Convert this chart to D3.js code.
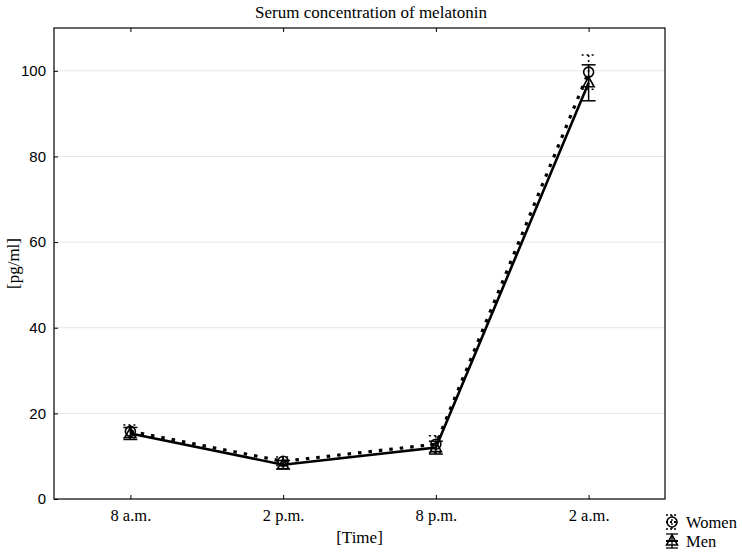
<!DOCTYPE html>
<html><head><meta charset="utf-8">
<script src="https://cdn.jsdelivr.net/npm/d3@7"></script>
<style>body{margin:0;background:#fff}</style>
</head><body>
<script>
const categories = ["8 a.m.", "2 p.m.", "8 p.m.", "2 a.m."];
const womenMean = [15.8, 8.8, 12.8, 99.7];
const womenErr = [1.5, 1.0, 2.0, 4.0];
const menMean = [15.3, 8.0, 12.0, 97.2];
const menErr = [1.4, 1.0, 1.5, 4.2];
const yTicks = [0, 20, 40, 60, 80, 100];
const seriesNames = ["Women", "Men"];

const W = 742, H = 556;
const m = {l: 54, r: 77, t: 28, b: 57};
const serif = "Liberation Serif, Times New Roman, serif";
const svg = d3.select("body").append("svg").attr("width", W).attr("height", H);
const x = d3.scalePoint().domain(categories).range([m.l, W - m.r]).padding(0.5);
const y = d3.scaleLinear().domain([0, 110]).range([H - m.b, m.t]);

// grid
svg.append("g").selectAll("line").data(yTicks.filter(d => d > 0)).join("line")
  .attr("x1", m.l).attr("x2", W - m.r).attr("y1", d => y(d)).attr("y2", d => y(d))
  .attr("stroke", "#e6e6e6").attr("stroke-width", 1);

// y axis
const ya = svg.append("g").attr("transform", `translate(${m.l},0)`)
  .call(d3.axisLeft(y).tickValues(yTicks).tickSizeInner(-4).tickSizeOuter(0).tickPadding(8));
ya.select(".domain").remove();
ya.selectAll("line").attr("stroke", "#000");
ya.selectAll("text").attr("font-family", "Liberation Sans, Arial, sans-serif").attr("font-size", 15).attr("fill", "#000");

// x axis bottom
const xa = svg.append("g").attr("transform", `translate(0,${H - m.b})`)
  .call(d3.axisBottom(x).tickSizeInner(-4).tickSizeOuter(0).tickPadding(10));
xa.select(".domain").remove();
xa.selectAll("line").attr("stroke", "#000");
xa.selectAll("text").attr("font-family", serif).attr("font-size", 16.5).attr("fill", "#000");
// top ticks
const xt = svg.append("g").attr("transform", `translate(0,${m.t})`)
  .call(d3.axisTop(x).tickSizeInner(-4).tickSizeOuter(0).tickFormat(""));
xt.select(".domain").remove();
xt.selectAll("line").attr("stroke", "#000");

// frame
svg.append("rect").attr("x", m.l).attr("y", m.t).attr("width", W - m.r - m.l).attr("height", H - m.b - m.t)
  .attr("fill", "none").attr("stroke", "#000").attr("stroke-width", 1.2);

function drawSeries(mean, err, dash, marker) {
  const g = svg.append("g");
  const line = d3.line().x((d, i) => x(categories[i])).y(d => y(d));
  g.append("path").datum(mean).attr("d", line).attr("fill", "none").attr("stroke", "#000")
    .attr("stroke-width", dash ? 3.2 : 2.6).attr("stroke-dasharray", dash ? "3.5,7" : null);
  mean.forEach((v, i) => {
    const cx = x(categories[i]);
    const t = y(v + err[i]), b = y(v - err[i]);
    const da = dash ? "2,3" : null;
    g.append("line").attr("x1", cx).attr("x2", cx).attr("y1", t).attr("y2", b).attr("stroke", "#000").attr("stroke-width", 1.5).attr("stroke-dasharray", da);
    [t, b].forEach(yy => g.append("line").attr("x1", cx - 7).attr("x2", cx + 7).attr("y1", yy).attr("y2", yy).attr("stroke", "#000").attr("stroke-width", 1.5).attr("stroke-dasharray", da));
    drawMarker(g, cx, y(v), marker);
  });
}
function drawMarker(g, cx, cy, marker) {
  if (marker === "circle") {
    g.append("circle").attr("cx", cx).attr("cy", cy).attr("r", 5).attr("fill", "none").attr("stroke", "#000").attr("stroke-width", 1.6);
  } else {
    g.append("path").attr("d", `M${cx},${cy - 6}L${cx + 5.5},${cy + 4}L${cx - 5.5},${cy + 4}Z`).attr("fill", "none").attr("stroke", "#000").attr("stroke-width", 1.6);
  }
}
drawSeries(womenMean, womenErr, true, "circle");
drawSeries(menMean, menErr, false, "triangle");

// title & labels
svg.append("text").attr("x", 371).attr("y", 18).attr("text-anchor", "middle")
  .attr("font-family", serif).attr("font-size", 17).text("Serum concentration of melatonin");
svg.append("text").attr("x", (m.l + W - m.r) / 2).attr("y", 543).attr("text-anchor", "middle")
  .attr("font-family", serif).attr("font-size", 17).text("[Time]");
svg.append("text").attr("transform", `translate(19,${(m.t + H - m.b) / 2}) rotate(-90)`).attr("text-anchor", "middle")
  .attr("font-family", serif).attr("font-size", 17).text("[pg/ml]");

// legend
const lg = svg.append("g");
seriesNames.forEach((n, i) => {
  const ly = 522 + i * 19;
  const lx = 672;
  const da = i === 0 ? "2,2" : null;
  lg.append("line").attr("x1", lx).attr("x2", lx).attr("y1", ly - 7).attr("y2", ly + 7).attr("stroke", "#000").attr("stroke-width", 1.3).attr("stroke-dasharray", da);
  [ly - 7, ly + 7].forEach(yy => lg.append("line").attr("x1", lx - 6).attr("x2", lx + 6).attr("y1", yy).attr("y2", yy).attr("stroke", "#000").attr("stroke-width", 1.3).attr("stroke-dasharray", da));
  lg.append("line").attr("x1", lx - 6).attr("x2", lx + 6).attr("y1", ly).attr("y2", ly).attr("stroke", "#000").attr("stroke-width", 2).attr("stroke-dasharray", da);
  drawMarker(lg, lx, ly, i === 0 ? "circle" : "triangle");
  lg.append("text").attr("x", lx + 14).attr("y", ly + 5.5).attr("font-family", serif).attr("font-size", 16.5).text(n);
});
</script>
</body></html>
